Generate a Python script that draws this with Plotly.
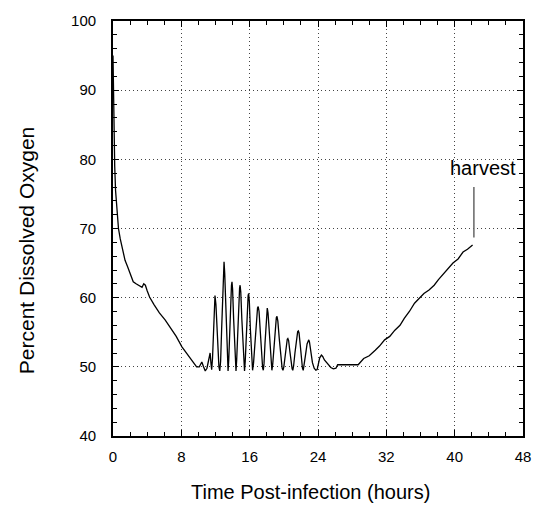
import plotly.graph_objects as go

# Dissolved oxygen trace (hours post-infection, percent DO)
time_h = [0.0, 0.05, 0.1, 0.2, 0.3, 0.45, 0.64, 0.85, 1.1, 1.41, 1.7, 1.99, 2.2, 2.37, 2.7, 3.0, 3.13, 3.4,
          3.6, 3.79, 4.0, 4.28, 4.8, 5.43, 6.1, 6.77, 7.4, 8.07, 8.6, 9.22, 9.5, 9.79, 10.1, 10.4, 10.6,
          10.8, 11.0, 11.2, 11.37, 11.47,
          11.55, 11.65, 11.75, 11.85, 11.94, 12.05, 12.15, 12.3, 12.4, 12.5,
          12.6, 12.72, 12.85, 12.93, 13.0, 13.08, 13.2, 13.32, 13.4, 13.47,
          13.55, 13.65, 13.78, 13.87, 13.93, 14.0, 14.12, 14.25, 14.33, 14.4,
          14.48, 14.6, 14.72, 14.82, 14.88, 14.96, 15.08, 15.22, 15.32, 15.4,
          15.48, 15.6, 15.72, 15.82, 15.88, 15.96, 16.08, 16.2, 16.28, 16.34,
          16.45, 16.6, 16.78, 16.92, 17.0, 17.1, 17.25, 17.4, 17.52, 17.6,
          17.68, 17.8, 17.93, 18.0, 18.06, 18.15, 18.28, 18.43, 18.53, 18.6,
          18.7, 18.85, 19.0, 19.12, 19.2, 19.3, 19.47, 19.65, 19.8, 19.9,
          20.0, 20.15, 20.3, 20.4, 20.47, 20.56, 20.7, 20.85, 20.97, 21.05,
          21.15, 21.3, 21.48, 21.62, 21.7, 21.78, 21.92, 22.06, 22.18, 22.27,
          22.38, 22.55, 22.72, 22.85, 22.92, 23.0, 23.15, 23.35, 23.55, 23.75,
          23.9, 24.05, 24.2, 24.4, 24.55, 24.75, 25.0, 25.3, 25.5, 25.8, 26.1, 26.3, 26.6,
          27.5, 28.7, 29.35, 30.0, 30.7, 31.2, 31.8, 32.4, 33.0, 33.6, 34.1, 34.7,
          35.3, 35.8, 36.4, 37.0, 37.6, 38.1, 38.7, 39.2, 39.8, 40.4, 40.98, 41.5, 42.1]
do_pct = [95.0, 90.0, 85.0, 79.0, 75.5, 72.5, 70.0, 68.5, 67.0, 65.4, 64.5, 63.6, 63.0, 62.3, 62.0, 61.8, 61.6, 61.5,
          62.0, 61.8, 61.0, 60.1, 59.0, 57.8, 56.8, 55.6, 54.4, 52.9, 52.0, 51.0, 50.4, 50.0, 50.0, 50.7, 50.0,
          49.4, 49.8, 51.0, 52.0, 50.5,
          49.6, 51.2, 55.0, 58.8, 60.3, 59.0, 56.0, 52.0, 50.0, 49.4,
          50.8, 55.5, 61.5, 64.6, 65.2, 63.5, 58.0, 52.5, 50.0, 49.4,
          51.0, 55.0, 59.8, 61.8, 62.3, 61.3, 57.0, 52.0, 50.0, 49.4,
          51.0, 55.0, 59.5, 61.4, 61.8, 60.8, 57.0, 52.5, 50.0, 49.4,
          50.8, 54.5, 58.5, 60.3, 60.6, 59.5, 55.5, 51.5, 49.9, 49.5,
          50.5, 53.5, 57.0, 58.5, 58.7, 58.0, 55.0, 51.5, 49.8, 49.5,
          50.5, 53.5, 57.0, 58.3, 58.5, 57.8, 55.0, 51.5, 49.9, 49.5,
          50.4, 53.0, 56.0, 57.1, 57.3, 56.6, 54.0, 51.0, 49.8, 49.5,
          50.0, 51.5, 53.2, 54.0, 54.1, 53.8, 52.3, 50.6, 49.7, 49.5,
          50.2, 52.0, 54.2, 55.1, 55.2, 54.9, 53.2, 51.0, 49.8, 49.5,
          50.2, 51.8, 53.3, 53.9, 53.9, 53.6, 52.3, 50.6, 49.8, 49.5,
          49.6, 50.5, 51.3, 51.7, 51.5, 51.0, 50.6, 50.2, 49.9, 49.7, 49.8, 50.3, 50.3,
          50.3, 50.3, 51.2, 51.6, 52.4, 53.0, 53.9, 54.4, 55.3, 56.0, 57.0, 58.0,
          59.2, 59.8, 60.6, 61.1, 61.8, 62.6, 63.5, 64.1, 65.0, 65.6, 66.6, 67.0, 67.6]

# Harvest marker
harvest_t = [42.25, 42.25]
harvest_do = [68.7, 76.0]
harvest_label = "harvest"
harvest_label_pos = (43.3, 78.7)

x_ticks = [0, 8, 16, 24, 32, 40, 48]
y_ticks = [40, 50, 60, 70, 80, 90, 100]

FONT = "Liberation Sans, Arial, Helvetica"

fig = go.Figure()
fig.add_trace(go.Scatter(x=time_h, y=do_pct, mode="lines",
                         line=dict(color="black", width=1.3), showlegend=False))
fig.add_trace(go.Scatter(x=harvest_t, y=harvest_do, mode="lines",
                         line=dict(color="#666666", width=1.5), showlegend=False))
fig.add_annotation(x=harvest_label_pos[0], y=harvest_label_pos[1], text=harvest_label,
                   showarrow=False, font=dict(family=FONT, size=20, color="black"))

# Axis titles placed as annotations
fig.add_annotation(xref="paper", yref="paper", x=0.482, y=-0.135, text="Time Post-infection (hours)",
                   showarrow=False, font=dict(family=FONT, size=20, color="black"),
                   xanchor="center", yanchor="middle")
fig.add_annotation(xref="paper", yref="paper", x=-0.2105, y=0.447, text="Percent Dissolved Oxygen",
                   showarrow=False, textangle=-90, font=dict(family=FONT, size=21, color="black"),
                   xanchor="center", yanchor="middle")

axis_common = dict(
    showline=True, linecolor="black", linewidth=1.8, mirror="ticks",
    ticks="inside", ticklen=6, tickwidth=1.2, tickcolor="black",
    showgrid=True, gridcolor="#444444", griddash="1px,3px", gridwidth=1,
    zeroline=False,
    tickfont=dict(family=FONT, size=15, color="black"),
)

fig.update_xaxes(range=[0, 48], tickvals=x_ticks, ticktext=[str(v) for v in x_ticks],
                 minor=dict(dtick=2, ticks="inside", ticklen=4, tickcolor="black", showgrid=False),
                 ticklabelstandoff=6, **axis_common)
fig.update_yaxes(range=[40, 100], tickvals=y_ticks, ticktext=[str(v) for v in y_ticks],
                 minor=dict(dtick=2, ticks="inside", ticklen=4, tickcolor="black", showgrid=False),
                 ticklabelstandoff=12, **axis_common)

fig.update_layout(width=542, height=506, margin=dict(l=113, r=11, t=21, b=70),
                  paper_bgcolor="white", plot_bgcolor="white")
fig.write_html("out.html", config={"displayModeBar": False},
               post_script="document.body.style.margin='0';document.body.style.overflow='hidden';")
